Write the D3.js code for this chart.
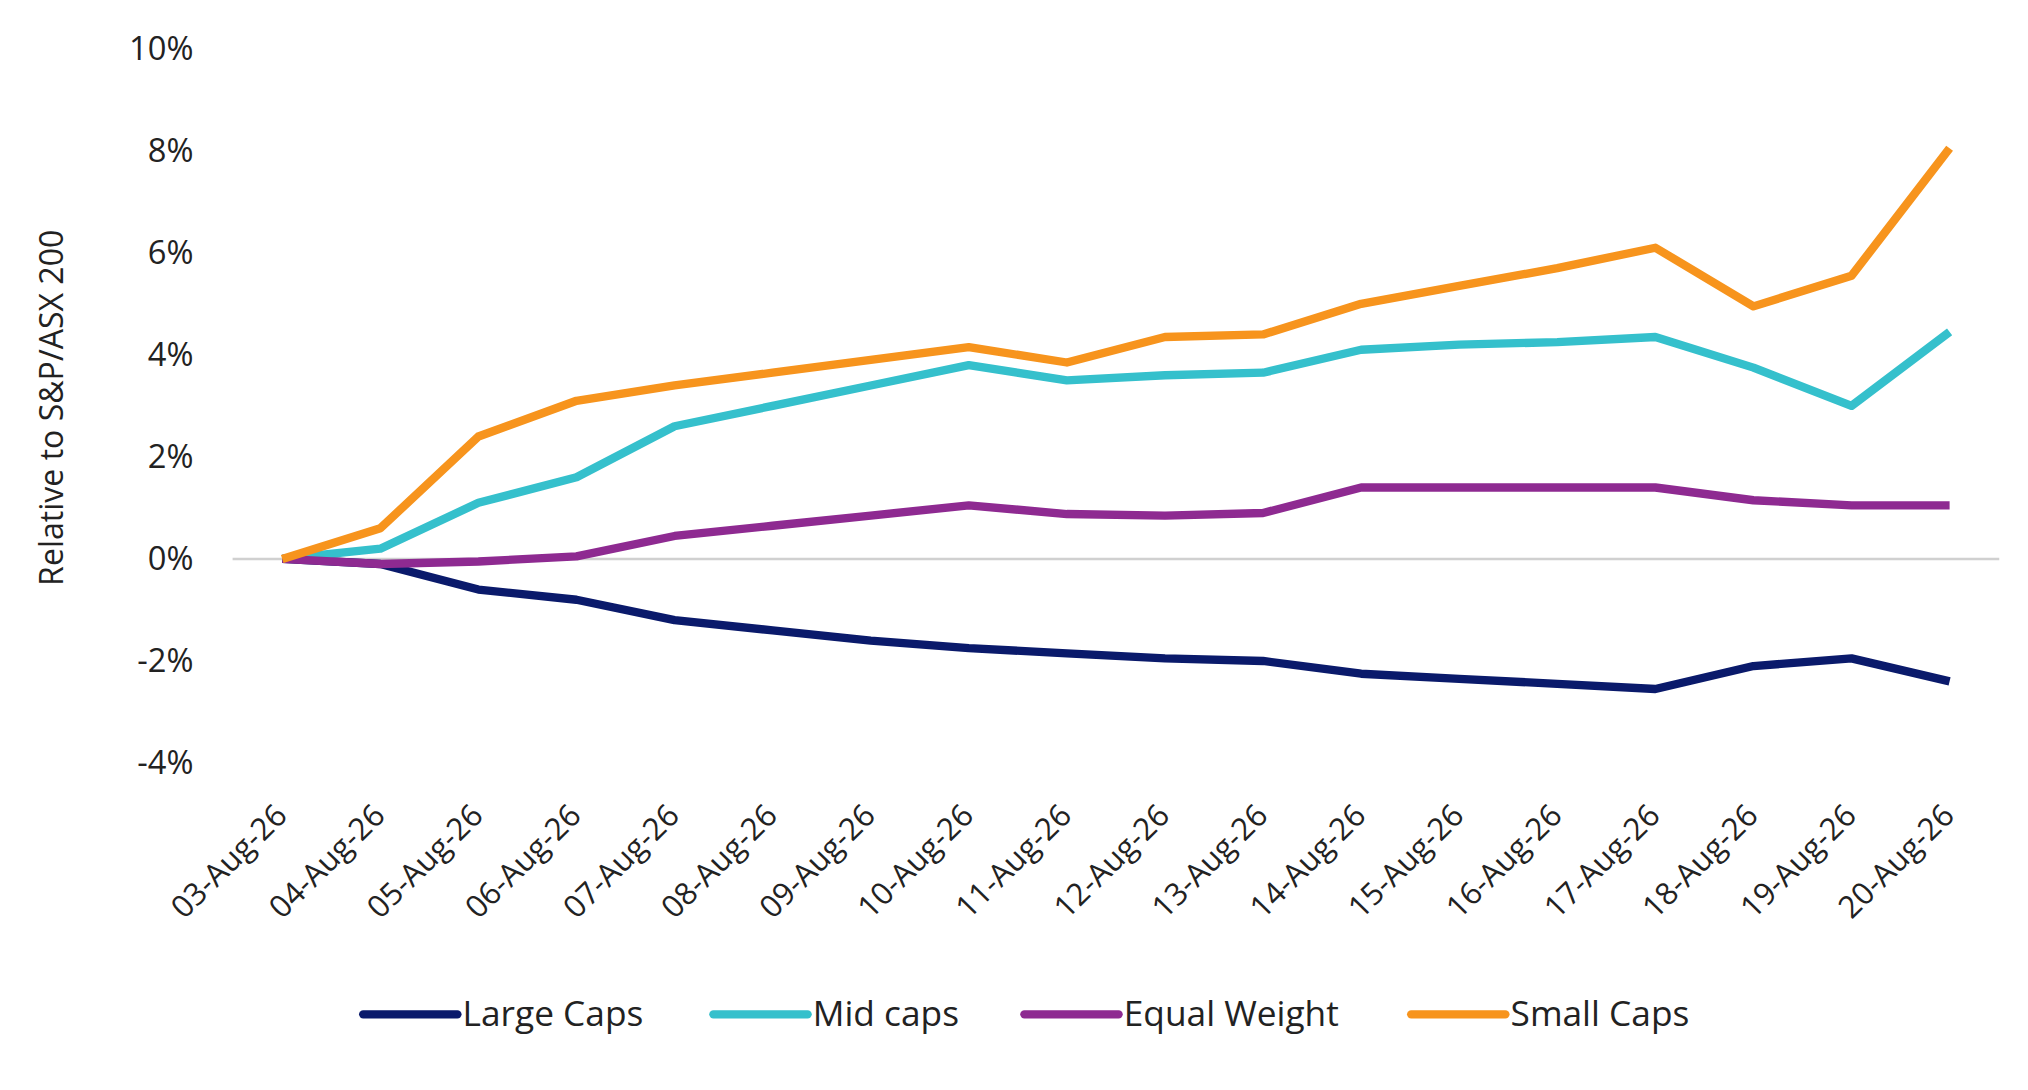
<!DOCTYPE html><html><head><meta charset="utf-8"><script src="https://cdn.jsdelivr.net/npm/d3@7"></script>
<style>body{margin:0;background:#fff}svg{display:block}text{font-family:"Open Sans",sans-serif;fill:#222}</style></head><body>
<script>
const dates=["03-Aug-26","04-Aug-26","05-Aug-26","06-Aug-26","07-Aug-26","08-Aug-26","09-Aug-26","10-Aug-26","11-Aug-26","12-Aug-26","13-Aug-26","14-Aug-26","15-Aug-26","16-Aug-26","17-Aug-26","18-Aug-26","19-Aug-26","20-Aug-26"];
const largeCaps=[0,-0.1,-0.6,-0.8,-1.2,-1.4,-1.6,-1.75,-1.85,-1.95,-2.0,-2.25,-2.35,-2.45,-2.55,-2.1,-1.95,-2.4];
const midCaps=[0,0.2,1.1,1.6,2.6,3.0,3.4,3.8,3.5,3.6,3.65,4.1,4.2,4.25,4.35,3.75,3.0,4.45];
const equalWeight=[0,-0.1,-0.05,0.05,0.45,0.65,0.85,1.05,0.88,0.85,0.9,1.4,1.4,1.4,1.4,1.15,1.05,1.05];
const smallCaps=[0,0.6,2.4,3.1,3.4,3.65,3.9,4.15,3.85,4.35,4.4,5.0,5.35,5.7,6.1,4.95,5.55,8.05];
const yTicks=[-4,-2,0,2,4,6,8,10];
const seriesNames=["Large Caps","Mid caps","Equal Weight","Small Caps"];
const colors=["#0a1a6b","#35c0cc","#8e2a91","#f7941d"];
const series=[largeCaps,midCaps,equalWeight,smallCaps];

const svg=d3.select("body").append("svg").attr("width",2028).attr("height",1090)
 .attr("viewBox","0 0 1552 850").attr("preserveAspectRatio","none");
const x=d3.scalePoint().domain(dates).range([216,1492]);
const y=d3.scaleLinear().domain([-4,10]).range([595,38]);
svg.append("line").attr("x1",178).attr("x2",1530).attr("y1",y(0)).attr("y2",y(0)).attr("stroke","#d0d0d0").attr("stroke-width",2);
const ya=svg.append("g").attr("transform","translate(148,0)").call(d3.axisLeft(y).tickValues(yTicks).tickFormat(d=>d+"%").tickSize(0).tickPadding(0));
ya.select(".domain").remove();
ya.selectAll("text").style("font-size","25px").attr("fill","#222");
const xa=svg.append("g").attr("transform","translate(0,630)").call(d3.axisBottom(x).tickSize(0).tickPadding(0));
xa.select(".domain").remove();
xa.selectAll("text").style("font-size","24px").attr("fill","#222").attr("text-anchor","end").attr("dy","0.35em")
 .attr("transform","rotate(-45) translate(-2,0)");
svg.append("text").attr("transform","translate(48,318) rotate(-90)").attr("text-anchor","middle").style("font-size","25px").text("Relative to S&P/ASX 200");
const line=d3.line().x((d,i)=>x(dates[i])).y(d=>y(d));
series.forEach((s,k)=>svg.append("path").datum(s).attr("d",line).attr("fill","none").attr("stroke",colors[k]).attr("stroke-width",6.5).attr("stroke-linejoin","round"));
const lx=[278,546,784,1080];
seriesNames.forEach((n,k)=>{
 svg.append("line").attr("x1",lx[k]).attr("x2",lx[k]+72).attr("y1",791).attr("y2",791).attr("stroke",colors[k]).attr("stroke-width",6.5).attr("stroke-linecap","round");
 svg.append("text").attr("x",lx[k]+76).attr("y",791).attr("dy","0.35em").style("font-size","27px").text(n);
});
</script></body></html>
